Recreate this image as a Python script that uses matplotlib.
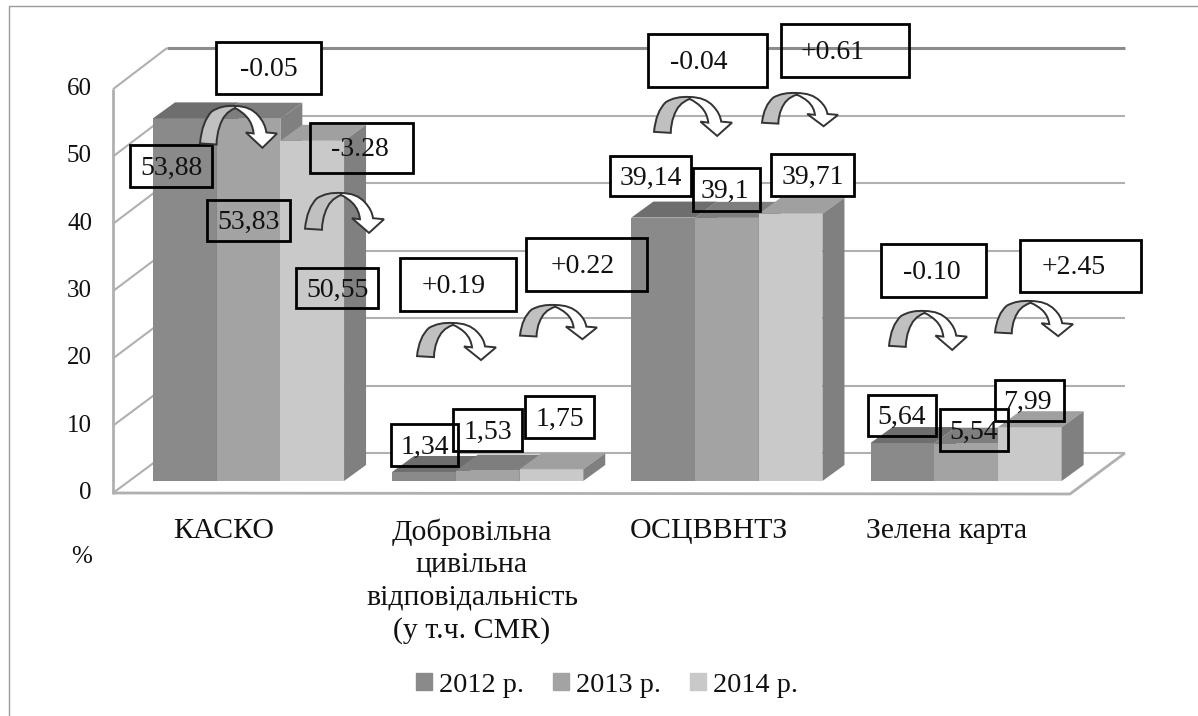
import matplotlib
matplotlib.use("Agg")
import matplotlib.pyplot as plt
from matplotlib.patches import Patch, PathPatch, Rectangle
from matplotlib.path import Path
from matplotlib.transforms import Affine2D

W, H = 1198, 716

years = ["2012 р.", "2013 р.", "2014 р."]
categories = ["КАСКО", "Добровільна\nцивільна\nвідповідальність\n(у т.ч. CMR)", "ОСЦВВНТЗ", "Зелена карта"]
values_2012 = [53.88, 1.34, 39.14, 5.64]
values_2013 = [53.83, 1.53, 39.1, 5.54]
values_2014 = [50.55, 1.75, 39.71, 7.99]
yticks = [0, 10, 20, 30, 40, 50, 60]

front_colors = ["#8a8a8a", "#a3a3a3", "#c9c9c9"]
top_colors = ["#6e6e6e", "#7e7e7e", "#a0a0a0"]
side_color = "#808080"

# x0, y0, x1, y1 in picture pixels, text
value_boxes = [
    (130, 145, 212, 187, "53,88"), (207, 200, 290, 241, "53,83"), (296, 268, 378, 308, "50,55"),
    (391, 424, 458, 466, "1,34"), (453, 409, 522, 451, "1,53"), (525, 396, 594, 438, "1,75"),
    (610, 156, 691, 196, "39,14"), (693, 168, 760, 211, "39,1"), (771, 154, 854, 196, "39,71"),
    (868, 395, 936, 436, "5,64"), (940, 409, 1008, 451, "5,54"), (995, 380, 1064, 421, "7,99"),
]
change_boxes = [
    (216, 42, 321, 94, "-0.05"), (310, 123, 413, 173, "-3.28"),
    (400, 258, 516, 311, "+0.19"), (526, 238, 647, 291, "+0.22"),
    (648, 34, 767, 87, "-0.04"), (781, 24, 909, 77, "+0.61"),
    (881, 244, 986, 297, "-0.10"), (1020, 240, 1141, 292, "+2.45"),
]
# text is not always centred in its box
text_dx = {"-3.28": -2, "+0.19": -4, "+0.22": -4, "-0.04": -9, "+0.61": -12, "-0.10": -2, "+2.45": -7, "39,1": -2, "7,99": -2}
# left, top, width, height of the curved arrows
arrows = [
    (200, 106, 78, 44), (305, 193, 80, 42), (417, 323, 80, 39), (520, 305, 78, 36),
    (654, 97, 79, 41), (762, 93, 77, 35), (889, 311, 79, 41), (995, 301, 79, 37),
]

bar_w = 63.7 / 239.2
depth_x = 22 / 239.2
depth_y = 16 / 6.73

fig = plt.figure(figsize=(W / 100, H / 100), dpi=100)
plt.rcParams["font.family"] = ["Liberation Serif", "DejaVu Serif"]
ax = fig.add_axes([0, 0, 1, 1])
ax.set_xlim(-248.5 / 239.2, (W - 248.5) / 239.2)
ax.set_ylim(-(H - 481) / 6.73, 481 / 6.73)
ax.axis("off")

# pixel coordinates of the picture, y going down
px = Affine2D().scale(1, -1).translate(0, H)


def pline(xs, ys, color="#b0b0b0", lw=1.5, z=1):
    ax.plot(xs, ys, color=color, lw=lw, transform=px, zorder=z, solid_capstyle="butt")


# outer frame, only top and left show
pline([9, 9, W], [H, 6, 6], color="#9a9a9a", lw=1, z=0)

# walls and floor
for v in yticks:
    yb = 453 - v * 6.75
    yf = 493 - v * 6.73
    pline([113, 167], [yf, yb])
    if v == 60:
        pline([167, 1125], [yb, yb], color="#8c8c8c", lw=2.2)
    else:
        pline([167, 1125], [yb, yb])
    ax.text(92, 493 - v * 6.73, str(v), transform=px, ha="right", va="center", fontsize=18, color="#111111")
pline([113, 113], [89, 494], lw=2)
pline([113, 1070, 1125], [493, 494, 453], lw=2)

# boxes get their white fill below the bars, frames and text go on top
for x0, y0, x1, y1, label in value_boxes + change_boxes:
    if label != "+0.61":
        ax.add_patch(Rectangle((x0, y0), x1 - x0, y1 - y0, transform=px, fc="white", ec="none", zorder=2))

# bars
series = [values_2012, values_2013, values_2014]
for i in range(len(categories)):
    for j in range(3):
        v = series[j][i]
        left = i + (j - 1.5) * bar_w
        ax.bar(left, v, width=bar_w, align="edge", color=front_colors[j], zorder=3 + j * 0.1)
        ax.fill([left, left + depth_x, left + bar_w + depth_x, left + bar_w], [v, v + depth_y, v + depth_y, v],
                color=top_colors[j], lw=0, zorder=3 + j * 0.1)
        ax.fill([left + bar_w, left + bar_w + depth_x, left + bar_w + depth_x, left + bar_w],
                [0, depth_y, v + depth_y, v], color=side_color, lw=0, zorder=3 + j * 0.1)

for x0, y0, x1, y1, label in value_boxes + change_boxes:
    ax.add_patch(Rectangle((x0, y0), x1 - x0, y1 - y0, transform=px, fill=False, ec="black", lw=2, zorder=5))
    ax.text((x0 + x1) / 2 + text_dx.get(label, 0), (y0 + y1) / 2 + 2, label, transform=px, ha="center", va="center",
            fontsize=20, color="#111111", zorder=6)

# curved arrows, shape drawn for an 80x40 box
M, L, C, Z = Path.MOVETO, Path.LINETO, Path.CURVE3, Path.CLOSEPOLY
grey_pts = [(0, 34), (2, 14), (12, 5), (22, -1), (36, 0), (36, 2), (24, 6), (20, 19), (17, 26), (17, 35), (0, 34)]
grey_codes = [M, C, C, C, C, L, C, C, C, C, Z]
white_pts = [(36, 0), (52, 0), (60, 9), (67, 16), (68, 24), (79, 25), (64, 38), (47, 24), (55, 25),
             (54, 16), (48, 10), (42, 4), (36, 2), (36, 0)]
white_codes = [M, C, C, C, C, L, L, L, L, C, C, C, C, Z]
for x, y, w, h in arrows:
    t = Affine2D().scale(w / 80, h / 40).translate(x, y) + px
    ax.add_patch(PathPatch(Path(white_pts, white_codes), fc="white", ec="#333333", lw=1.4, transform=t, zorder=7))
    ax.add_patch(PathPatch(Path(grey_pts, grey_codes), fc="#c0c0c0", ec="#333333", lw=1.4, transform=t, zorder=7))

# category labels
label_x = [224, 472, 709, 947]
for x, name in zip(label_x, categories):
    ax.text(x, 518, name, transform=px, ha="center", va="top", fontsize=21.5, color="#111111", linespacing=1.32)
ax.text(82, 557, "%", transform=px, ha="center", va="center", fontsize=18, color="#111111")

handles = [Patch(color=c, label=y) for c, y in zip(front_colors, years)]
ax.legend(handles=handles, ncol=3, frameon=False, fontsize=20.3, loc="center",
          bbox_to_anchor=(607 / W, 1 - 685 / H), handlelength=0.55, handleheight=0.55,
          handletextpad=0.25, columnspacing=1.05, borderpad=0, labelcolor="#111111")

fig.savefig("out.png", dpi=100)
